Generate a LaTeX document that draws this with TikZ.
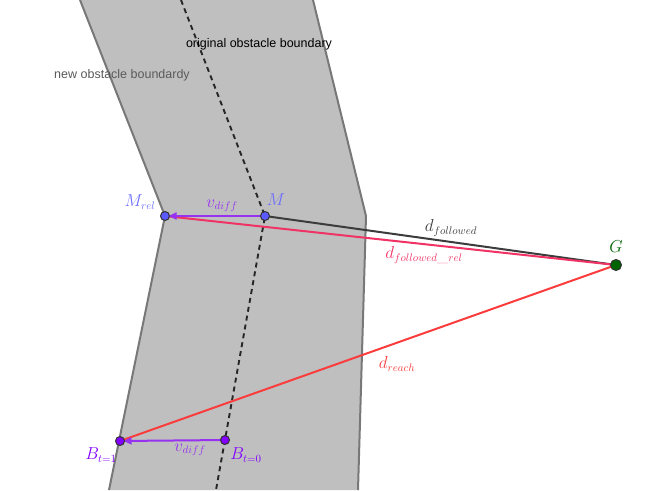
\documentclass[tikz,border=0pt]{standalone}
\usepackage{fontspec}
\newfontfamily\labelfont{Liberation Sans}
\usetikzlibrary{arrows.meta}
\definecolor{bandgray}{RGB}{191,191,191}
\definecolor{edgegray}{RGB}{120,120,120}
\definecolor{mblue}{RGB}{90,90,255}
\definecolor{mlabel}{RGB}{110,110,255}
\definecolor{vpurple}{RGB}{150,50,240}
\definecolor{bpurple}{RGB}{130,0,255}
\definecolor{gdark}{RGB}{0,100,0}
\definecolor{relpink}{RGB}{240,50,100}
\definecolor{reachred}{RGB}{250,60,60}
\definecolor{follow}{RGB}{60,60,60}
\definecolor{newtxt}{RGB}{90,90,90}
\tikzset{
  edge/.style={draw=edgegray, line width=2pt},
  dashline/.style={draw=black!85, line width=1.9pt, dash pattern=on 5pt off 4pt},
  conn/.style={line width=2pt},
  vec/.style={draw=vpurple, line width=2pt, -{Triangle[length=8pt,width=7pt]}, shorten >=3.5pt},
  pt/.style={circle, draw=black!80, line width=1pt, inner sep=0pt, minimum size=9pt},
  mlab/.style={font=\fontsize{16}{16}\selectfont},
  txt/.style={font=\labelfont\fontsize{12.5}{13}\selectfont}
}
\begin{document}
\begin{tikzpicture}[x=1pt,y=-1pt]
\useasboundingbox (0,0) rectangle (668,490);
% band
\fill[bandgray] (80,0) -- (165,216) -- (109,490) -- (358,490) -- (366,216) -- (313,0) -- cycle;
\coordinate (L1) at (80,0); \coordinate (L2) at (165,216); \coordinate (L3) at (109,490);
\coordinate (R1) at (313,0); \coordinate (R2) at (366,216); \coordinate (R3) at (358,490);
\coordinate (D1) at (181,0); \coordinate (D3) at (216,490);
\draw[edge] (L1) -- (L2) -- (L3);
\draw[edge] (R1) -- (R2) -- (R3);
% points
\coordinate (M) at (265,216);
\coordinate (Mrel) at (165,216);
\coordinate (G) at (616,265);
\coordinate (B0) at (225,440);
\coordinate (B1) at (120,441);
\draw[dashline] (D1) -- (M) -- (D3);
% connectors
\draw[conn, follow] (M) -- (G);
\draw[conn, relpink] (Mrel) -- (G);
\draw[conn, reachred] (G) -- (B1);
\draw[vec] (M) -- (Mrel);
\draw[vec] (B0) -- (B1);
% dots
\node[pt, fill=mblue] (Mdot) at (M) {};
\node[pt, fill=mblue] (Mreldot) at (Mrel) {};
\node[pt, fill=gdark, minimum size=11pt] (Gdot) at (G) {};
\node[pt, fill=bpurple] (B0dot) at (B0) {};
\node[pt, fill=bpurple] (B1dot) at (B1) {};
% labels
\node[mlab, text=mlabel] (lMrel) at (140,202) {$M_{rel}$};
\node[mlab, text=mlabel] (lM) at (276,200) {$M$};
\node[mlab, text=vpurple] (lv1) at (222,206) {$v_{diff}$};
\node[mlab, text=follow] (ldf) at (451,228) {$d_{followed}$};
\node[mlab, text=relpink] (ldfr) at (424,255) {$d_{followed\_rel}$};
\node[mlab, text=gdark] (lG) at (616,247) {$G$};
\node[mlab, text=reachred] (ldr) at (397,364) {$d_{reach}$};
\node[mlab, text=bpurple] (lB1) at (101,455) {$B_{t=1}$};
\node[mlab, text=vpurple] (lv2) at (190,450) {$v_{diff}$};
\node[mlab, text=bpurple] (lB0) at (246,455) {$B_{t=0}$};
\node[txt, text=black] (lorig) at (259,44) {original obstacle boundary};
\node[txt, text=newtxt] (lnew) at (122,75) {new obstacle boundardy};
\end{tikzpicture}
\end{document}
